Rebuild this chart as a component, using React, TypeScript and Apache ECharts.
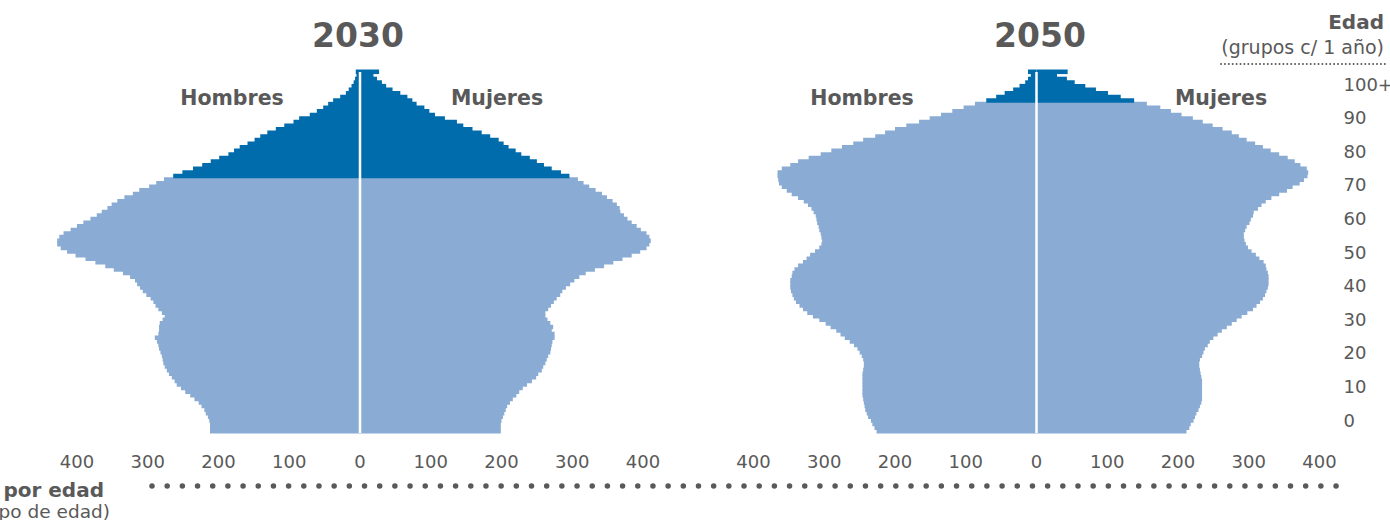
import React, { useEffect, useRef } from 'react';
import * as echarts from 'echarts';

// Ages 0..100+ (one-year groups)
const ages: string[] = Array.from({ length: 101 }, (_, i) => (i === 100 ? '100+' : String(i)));

// 2030 population (thousands), by single year of age 0..100+
const men2030 = [
  212, 212, 212, 213, 215, 218, 220, 224, 228, 234,
  240, 247, 253, 259, 262, 266, 270, 273, 276, 278,
  279, 280, 282, 284, 285, 287, 290, 285, 284, 284,
  283, 279, 276, 280, 285, 289, 292, 296, 302, 307,
  311, 315, 318, 325, 335, 348, 360, 374, 388, 402,
  414, 423, 428, 428, 425, 419, 409, 400, 391, 381,
  372, 365, 357, 351, 343, 333, 321, 312, 298, 288,
  277, 264, 251, 236, 223, 211, 199, 186, 178, 170,
  159, 149, 141, 131, 119, 107, 94, 86, 71, 61,
  52, 45, 38, 28, 20, 16, 12, 9, 7, 5,
  6,
];
const women2030 = [
  199, 199, 199, 200, 202, 204, 206, 208, 212, 216,
  221, 225, 230, 236, 243, 249, 252, 257, 259, 262,
  264, 266, 269, 270, 271, 272, 275, 275, 271, 273,
  269, 265, 262, 262, 266, 270, 274, 278, 283, 286,
  291, 297, 303, 310, 319, 332, 345, 358, 371, 384,
  396, 405, 409, 411, 409, 405, 397, 391, 384, 378,
  373, 368, 367, 363, 357, 349, 342, 333, 324, 316,
  308, 296, 284, 271, 260, 250, 240, 228, 220, 210,
  203, 196, 184, 172, 159, 146, 137, 120, 106, 98,
  91, 80, 74, 67, 57, 46, 37, 31, 24, 19,
  27,
];

// 2050 population (thousands), by single year of age 0..100+
const men2050 = [
  226, 229, 232, 234, 238, 240, 242, 243, 244, 245,
  246, 246, 246, 246, 246, 246, 246, 245, 244, 244,
  245, 247, 250, 253, 258, 264, 271, 277, 283, 291,
  298, 307, 316, 324, 330, 335, 340, 343, 345, 347,
  348, 348, 348, 346, 345, 342, 337, 330, 325, 320,
  313, 307, 304, 303, 304, 305, 307, 308, 310, 311,
  312, 315, 318, 323, 329, 337, 346, 353, 360, 364,
  365, 366, 366, 360, 348, 337, 322, 305, 290, 275,
  259, 245, 228, 214, 200, 184, 166, 151, 135, 119,
  103, 87, 71, 57, 45, 33, 24, 16, 12, 8,
  12,
];
const women2050 = [
  212, 216, 218, 222, 224, 226, 229, 231, 233, 234,
  234, 234, 234, 234, 234, 233, 232, 231, 230, 230,
  231, 234, 236, 238, 242, 245, 250, 256, 262, 269,
  276, 283, 290, 298, 306, 311, 316, 320, 323, 325,
  327, 328, 328, 328, 327, 325, 324, 321, 315, 310,
  304, 299, 296, 294, 293, 293, 295, 297, 301, 303,
  306, 307, 313, 318, 324, 332, 343, 354, 362, 372,
  378, 383, 384, 382, 373, 365, 355, 343, 331, 320,
  309, 297, 286, 276, 263, 249, 235, 221, 205, 190,
  175, 156, 138, 119, 101, 84, 69, 54, 43, 29,
  44,
];

// first age drawn in the darker colour
const darkFrom2030 = 71;
const darkFrom2050 = 92;

const xTicks = [-400, -300, -200, -100, 0, 100, 200, 300, 400];
const ageTicks = [0, 10, 20, 30, 40, 50, 60, 70, 80, 90, 100];

const DARK = '#006cac';
const LIGHT = '#8aacd4';
const TEXT = '#595959';
const FONT = "'DejaVu Sans', sans-serif";

function xAxisFor(gridIndex: number) {
  return {
    type: 'value',
    gridIndex,
    min: -450,
    max: 450,
    interval: 50,
    axisLine: { show: false },
    axisTick: { show: false },
    splitLine: { show: false },
    axisLabel: {
      margin: 19,
      color: TEXT,
      fontFamily: FONT,
      fontSize: 18,
      formatter: (v: number) => (xTicks.indexOf(v) >= 0 ? String(Math.abs(v)) : ''),
    },
  };
}

function yAxisFor(gridIndex: number) {
  return { type: 'category', gridIndex, data: ages, show: false };
}

// pyramid half drawn as one rect per age row (slightly overlapping rows to avoid seams)
function pyramidSeries(name: string, vals: number[], sign: number, idx: number, darkFrom: number, withCenter: boolean) {
  return {
    name,
    type: 'custom',
    coordinateSystem: 'cartesian2d',
    xAxisIndex: idx,
    yAxisIndex: idx,
    encode: { x: 0, y: 1 },
    data: vals.map((v, i) => [sign * v, i]),
    renderItem: (params: any, api: any) => {
      const v = api.value(0);
      const cat = api.value(1);
      const p0 = api.coord([0, cat]);
      const p1 = api.coord([v, cat]);
      const h = api.size([0, 1])[1];
      const rect = {
        type: 'rect',
        shape: {
          x: Math.min(p0[0], p1[0]),
          y: p0[1] - h / 2 - 0.5,
          width: Math.abs(p1[0] - p0[0]),
          height: h + 1,
        },
        style: { fill: cat >= darkFrom ? DARK : LIGHT },
      };
      if (withCenter && params.dataIndex === 0) {
        const cs = params.coordSys;
        return {
          type: 'group',
          children: [
            rect,
            {
              type: 'line',
              z2: 100,
              shape: { x1: p0[0], y1: cs.y + 2, x2: p0[0], y2: cs.y + cs.height },
              style: { stroke: '#ffffff', lineWidth: 2.5 },
            },
          ],
        };
      }
      return rect;
    },
  };
}

const boldText = (text: string, x: number, y: number, size: number, align = 'center') => ({
  type: 'text',
  x,
  y,
  style: {
    text,
    fill: TEXT,
    font: `bold ${size}px ${FONT}`,
    align,
    verticalAlign: 'middle',
  },
});
const plainText = (text: string, x: number, y: number, size: number, align = 'center') => ({
  type: 'text',
  x,
  y,
  style: {
    text,
    fill: TEXT,
    font: `${size}px ${FONT}`,
    align,
    verticalAlign: 'middle',
  },
});

export default function App() {
  const ref = useRef<HTMLDivElement>(null);
  useEffect(() => {
    if (!ref.current) return;
    const chart = echarts.init(ref.current, undefined, { renderer: 'svg' });
    const option: any = {
      animation: false,
      backgroundColor: '#ffffff',
      grid: [
        { left: 41.6, width: 636.8, top: 70, height: 363 },
        { left: 718.1, width: 636.8, top: 70, height: 363 },
        { left: 1335, width: 2, top: 84, height: 336 },
      ],
      xAxis: [
        xAxisFor(0),
        xAxisFor(1),
        { type: 'value', gridIndex: 2, show: false },
      ],
      yAxis: [
        yAxisFor(0),
        yAxisFor(1),
        {
          type: 'value',
          gridIndex: 2,
          min: 0,
          max: 100,
          interval: 10,
          position: 'right',
          axisLine: { show: false },
          axisTick: { show: false },
          splitLine: { show: false },
          axisLabel: {
            margin: 8,
            color: TEXT,
            fontFamily: FONT,
            fontSize: 18,
            formatter: (v: number) => (ageTicks.indexOf(v) >= 0 ? (v === 100 ? '100+' : String(v)) : ''),
          },
        },
      ],
      series: [
        pyramidSeries('Hombres 2030', men2030, -1, 0, darkFrom2030, false),
        pyramidSeries('Mujeres 2030', women2030, 1, 0, darkFrom2030, true),
        pyramidSeries('Hombres 2050', men2050, -1, 1, darkFrom2050, false),
        pyramidSeries('Mujeres 2050', women2050, 1, 1, darkFrom2050, true),
      ],
      graphic: [
        boldText('2030', 358, 35, 33),
        boldText('2050', 1040, 35, 33),
        boldText('Hombres', 232, 98, 20.5),
        boldText('Mujeres', 497, 98, 20.5),
        boldText('Hombres', 862, 98, 20.5),
        boldText('Mujeres', 1221, 98, 20.5),
        boldText('Edad', 1384, 22, 20, 'right'),
        plainText('(grupos c/ 1 año)', 1384, 47, 19, 'right'),
        {
          type: 'line',
          shape: { x1: 1221, y1: 64, x2: 1385, y2: 64 },
          style: { stroke: TEXT, lineWidth: 2, lineDash: [0, 3.9], lineCap: 'round' },
        },
        {
          type: 'line',
          shape: { x1: 152, y1: 486, x2: 1337, y2: 486 },
          style: { stroke: TEXT, lineWidth: 5.5, lineDash: [0, 15.18], lineCap: 'round' },
        },
        boldText('Población por edad', 104, 489.5, 20, 'right'),
        plainText('(miles por grupo de edad)', 110, 511.5, 18.5, 'right'),
      ],
    };
    chart.setOption(option);
    return () => chart.dispose();
  }, []);
  return (
    <div
      ref={ref}
      style={{ position: 'fixed', left: 0, top: 0, width: 1390, height: 520 }}
    />
  );
}
